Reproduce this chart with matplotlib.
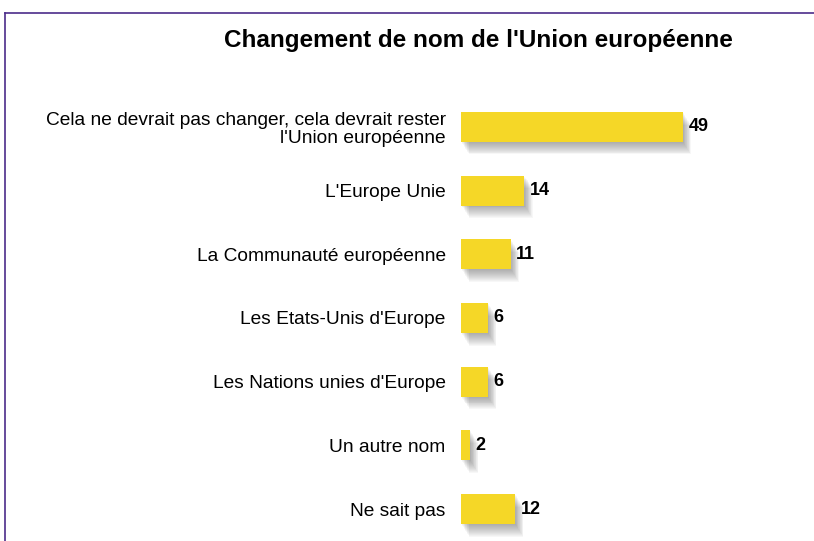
import numpy as np
import matplotlib
matplotlib.use("Agg")
import matplotlib.pyplot as plt
import matplotlib.patheffects as pe
from matplotlib.lines import Line2D

plt.rcParams["font.family"] = ["Liberation Sans", "DejaVu Sans"]

labels = ["Cela ne devrait pas changer, cela devrait rester\nl'Union européenne",
          "L'Europe Unie",
          "La Communauté européenne",
          "Les Etats-Unis d'Europe",
          "Les Nations unies d'Europe",
          "Un autre nom",
          "Ne sait pas"]
values = [49, 14, 11, 6, 6, 2, 12]

W, H = 814, 541
fig = plt.figure(figsize=(W/100, H/100), dpi=100)

# axes placed in pixel terms: bars start at x=461, 4.53 px per unit
x0, ppu = 461, 4.53
xmax = 70
top_px, bot_px = 95, 541
ax = fig.add_axes([x0/W, 1 - bot_px/H, xmax*ppu/W, (bot_px-top_px)/H])

y = np.arange(len(values))
# soft shadow: stacked offset layers
shadow = []
for d in range(1, 14):
    shadow.append(pe.SimplePatchShadow(offset=(d*0.45, -d*0.7),
                                       shadow_rgbFace="#555555", alpha=0.045))
shadow.append(pe.Normal())

bars = ax.barh(y, values, height=0.47, color="#F5D727", edgecolor="none", zorder=3)
for b in bars:
    b.set_path_effects(shadow)

for yi, v in zip(y, values):
    ax.text(v + 1.2, yi, str(v), va="center", ha="left", fontsize=13,
            fontweight="bold", color="black")

ax.set_xlim(0, xmax)
ax.set_ylim(len(values) - 0.5, -0.5)
ax.set_yticks(y)
ax.set_yticklabels(labels, fontsize=13.8, ha="right", multialignment="right",
                   linespacing=1.12)
ax.tick_params(axis="y", length=0, pad=11)
ax.set_xticks([])
for s in ax.spines.values():
    s.set_visible(False)

fig.text(478/W, 1 - 40/H, "Changement de nom de l'Union européenne",
         ha="center", va="center", fontsize=17.5, fontweight="bold")

# frame lines (top and left)
fig.add_artist(Line2D([5/W, 1], [1 - 13/H, 1 - 13/H], color="#4B2C8A", lw=1.2,
                      transform=fig.transFigure))
fig.add_artist(Line2D([5/W, 5/W], [0, 1 - 13/H], color="#4B2C8A", lw=1.2,
                      transform=fig.transFigure))

fig.savefig("out.png", dpi=100)
